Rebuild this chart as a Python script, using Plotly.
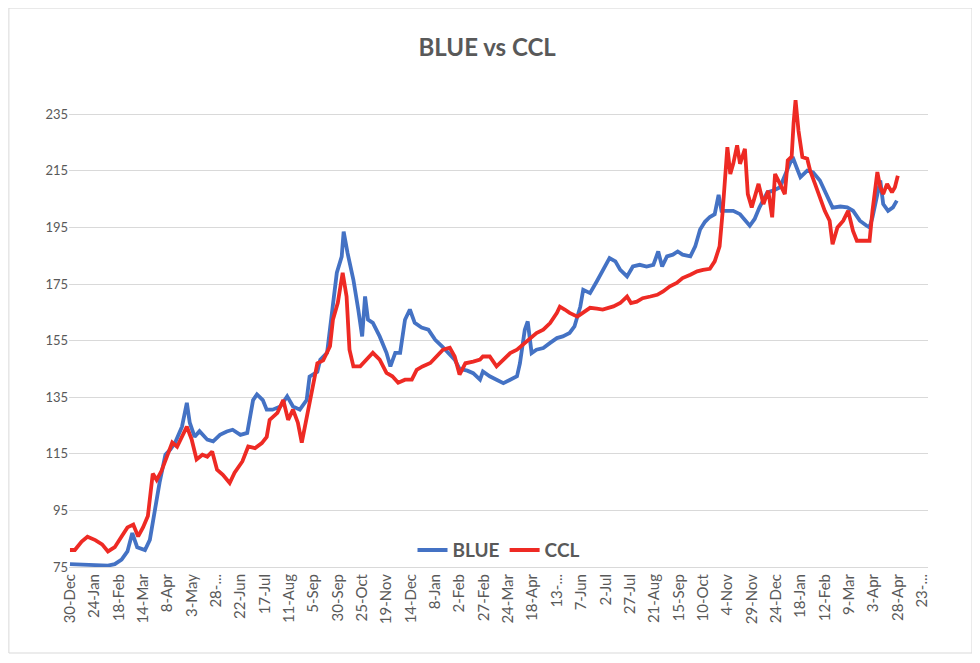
"""
BLUE vs CCL - line chart (Excel look) rebuilt with plotly
"""

import pandas as pd
import plotly.graph_objects as go

BLUE_COLOR = "#4472C4"
CCL_COLOR = "#EE2A24"
TEXT = "#595959"
GRID = "#D9D9D9"
FONT = "Lato, 'Open Sans', sans-serif"

# ---- data ----
blue_dates = [
    "2019-12-30", "2020-01-11", "2020-01-25", "2020-02-07", "2020-02-14", "2020-02-21",
    "2020-02-27", "2020-03-03", "2020-03-08", "2020-03-16", "2020-03-21", "2020-03-26",
    "2020-03-31", "2020-04-06", "2020-04-11", "2020-04-16", "2020-04-23", "2020-04-28",
    "2020-05-01", "2020-05-06", "2020-05-11", "2020-05-19", "2020-05-25", "2020-06-01",
    "2020-06-08", "2020-06-14", "2020-06-22", "2020-06-29", "2020-07-05", "2020-07-09",
    "2020-07-15", "2020-07-19", "2020-07-25", "2020-08-02", "2020-08-09", "2020-08-15",
    "2020-08-22", "2020-08-29", "2020-09-01", "2020-09-09", "2020-09-12", "2020-09-19",
    "2020-09-24", "2020-09-29", "2020-10-04", "2020-10-06", "2020-10-10", "2020-10-16",
    "2020-10-21", "2020-10-25", "2020-10-28", "2020-10-31", "2020-11-05", "2020-11-12",
    "2020-11-19", "2020-11-23", "2020-11-28", "2020-12-03", "2020-12-08", "2020-12-13",
    "2020-12-18", "2020-12-25", "2021-01-01", "2021-01-08", "2021-01-15", "2021-01-21",
    "2021-01-28", "2021-02-02", "2021-02-10", "2021-02-16", "2021-02-23", "2021-02-26",
    "2021-03-05", "2021-03-12", "2021-03-19", "2021-03-26", "2021-04-02", "2021-04-05",
    "2021-04-10", "2021-04-13", "2021-04-17", "2021-04-22", "2021-04-29", "2021-05-06",
    "2021-05-13", "2021-05-19", "2021-05-26", "2021-05-31", "2021-06-06", "2021-06-09",
    "2021-06-16", "2021-06-23", "2021-06-29", "2021-07-06", "2021-07-12", "2021-07-17",
    "2021-07-24", "2021-07-30", "2021-08-06", "2021-08-13", "2021-08-20", "2021-08-25",
    "2021-08-29", "2021-09-03", "2021-09-09", "2021-09-14", "2021-09-19", "2021-09-27",
    "2021-10-02", "2021-10-07", "2021-10-12", "2021-10-17", "2021-10-22", "2021-10-26",
    "2021-10-29", "2021-11-04", "2021-11-10", "2021-11-17", "2021-11-22", "2021-11-27",
    "2021-12-02", "2021-12-07", "2021-12-15", "2021-12-21", "2021-12-28", "2022-01-04",
    "2022-01-10", "2022-01-14", "2022-01-18", "2022-01-25", "2022-01-31", "2022-02-07",
    "2022-02-14", "2022-02-20", "2022-02-28", "2022-03-07", "2022-03-13", "2022-03-20",
    "2022-03-27", "2022-03-30", "2022-04-02", "2022-04-07", "2022-04-10", "2022-04-13",
    "2022-04-18", "2022-04-23", "2022-04-27",
]
blue_values = [
    76, 75.8, 75.5, 75.5, 76, 77.6,
    80.5, 87, 82, 81, 84.6, 95,
    104.8, 114.7, 116.5, 119, 124.6, 133,
    126, 121, 123, 120, 119.4, 121.7,
    122.9, 123.5, 121.7, 122.4, 134, 136,
    134, 130.6, 130.6, 131.7, 135.3, 131.7,
    130.6, 134, 142.3, 144, 148.3, 150.7,
    164.8, 179, 184.7, 193.5, 186, 176.5,
    166, 156.5, 170.6, 162.4, 161.3, 156.5,
    150.7, 145.9, 150.7, 150.7, 162.4, 166,
    161.3, 159.6, 158.9, 155.3, 153, 150.7,
    148.3, 145, 144.4, 143.5, 141.2, 144.1,
    142.4, 141.2, 140, 141.2, 142.4, 147,
    158.9, 161.8, 150.6, 151.8, 152.4, 154.2,
    155.9, 156.5, 157.7, 160, 167, 173,
    171.8, 176, 180, 184.2, 183, 180,
    177.7, 181.2, 181.8, 181.2, 181.8, 186.5,
    181.2, 184.8, 185.4, 186.5, 185.4, 184.8,
    188.3, 194.3, 197, 198.7, 199.7, 206.5,
    200.9, 200.9, 200.9, 199.7, 197.4, 195.6,
    198, 202.1, 207.4, 208, 209.2, 215.1,
    219.9, 216.3, 212.8, 215.1, 214.5, 211.6,
    206.8, 202, 202.4, 202.1, 200.9, 197.4,
    195.6, 195, 198.6, 206.8, 211.6, 203.3,
    200.9, 202.1, 204.5,
]

ccl_dates = [
    "2019-12-30", "2020-01-04", "2020-01-11", "2020-01-17", "2020-01-25", "2020-02-01",
    "2020-02-07", "2020-02-14", "2020-02-21", "2020-02-27", "2020-03-04", "2020-03-09",
    "2020-03-14", "2020-03-19", "2020-03-24", "2020-03-28", "2020-04-02", "2020-04-08",
    "2020-04-13", "2020-04-18", "2020-04-23", "2020-04-28", "2020-05-03", "2020-05-08",
    "2020-05-14", "2020-05-19", "2020-05-24", "2020-05-29", "2020-06-04", "2020-06-11",
    "2020-06-16", "2020-06-24", "2020-06-30", "2020-07-07", "2020-07-14", "2020-07-19",
    "2020-07-22", "2020-07-30", "2020-08-05", "2020-08-10", "2020-08-15", "2020-08-20",
    "2020-08-24", "2020-08-29", "2020-09-04", "2020-09-09", "2020-09-15", "2020-09-22",
    "2020-09-25", "2020-09-30", "2020-10-05", "2020-10-09", "2020-10-12", "2020-10-16",
    "2020-10-23", "2020-10-30", "2020-11-05", "2020-11-12", "2020-11-19", "2020-11-25",
    "2020-12-01", "2020-12-08", "2020-12-15", "2020-12-20", "2020-12-26", "2021-01-03",
    "2021-01-10", "2021-01-16", "2021-01-23", "2021-01-28", "2021-02-02", "2021-02-08",
    "2021-02-16", "2021-02-23", "2021-02-26", "2021-03-05", "2021-03-12", "2021-03-19",
    "2021-03-26", "2021-04-02", "2021-04-08", "2021-04-15", "2021-04-22", "2021-04-29",
    "2021-05-06", "2021-05-13", "2021-05-16", "2021-05-21", "2021-05-26", "2021-06-03",
    "2021-06-09", "2021-06-16", "2021-06-23", "2021-06-29", "2021-07-10", "2021-07-17",
    "2021-07-24", "2021-07-28", "2021-08-03", "2021-08-09", "2021-08-17", "2021-08-24",
    "2021-08-30", "2021-09-06", "2021-09-13", "2021-09-19", "2021-09-27", "2021-10-04",
    "2021-10-10", "2021-10-17", "2021-10-22", "2021-10-27", "2021-10-30", "2021-11-02",
    "2021-11-04", "2021-11-07", "2021-11-10", "2021-11-14", "2021-11-17", "2021-11-22",
    "2021-11-25", "2021-11-29", "2021-12-02", "2021-12-06", "2021-12-11", "2021-12-16",
    "2021-12-20", "2021-12-23", "2021-12-28", "2022-01-02", "2022-01-05", "2022-01-09",
    "2022-01-11", "2022-01-13", "2022-01-16", "2022-01-20", "2022-01-25", "2022-01-28",
    "2022-02-02", "2022-02-07", "2022-02-12", "2022-02-17", "2022-02-20", "2022-02-25",
    "2022-03-03", "2022-03-08", "2022-03-13", "2022-03-17", "2022-03-23", "2022-03-30",
    "2022-04-02", "2022-04-07", "2022-04-10", "2022-04-13", "2022-04-17", "2022-04-22",
    "2022-04-25", "2022-04-28",
]
ccl_values = [
    81, 81, 84, 85.7, 84.5, 83,
    80.5, 82, 85.8, 89, 90, 85.8,
    89, 93, 108, 105.8, 109, 115,
    119, 117.5, 121, 124.6, 120, 113,
    114.7, 114, 115.8, 109.4, 107.6, 104.7,
    108.3, 112.3, 117.6, 117, 118.8, 121,
    127, 129.5, 134, 127, 130.6, 126,
    119, 128, 137.7, 147, 148, 153,
    162.4, 168.4, 179, 170.6, 151.8, 145.9,
    145.9, 148.3, 150.7, 148.3, 143.6, 142.4,
    140.1, 141.2, 141.2, 144.7, 145.9, 147.1,
    149.4, 151.8, 152.5, 149.4, 143, 147,
    147.6, 148.3, 149.4, 149.4, 145.9, 148.3,
    150.6, 151.8, 153.5, 155.3, 157.7, 158.9,
    161.2, 164.8, 167, 166, 164.8, 163.5,
    165, 166.6, 166.3, 166, 167.1, 168.3,
    170.6, 168.3, 168.8, 170, 170.6, 171.2,
    172.4, 174.2, 175.4, 177.1, 178.3, 179.5,
    180, 180.4, 183, 188.3, 200, 212.8,
    223.4, 213.9, 217.5, 224, 217.5, 222.8,
    206.8, 202.1, 205.7, 210.4, 203.3, 208,
    198.6, 213.9, 210.4, 206.8, 218.7, 220,
    232, 240, 229.3, 219.9, 219.3, 215.1,
    210.4, 205.7, 200.9, 197.4, 189.1, 195,
    197.4, 200.9, 193.8, 190.3, 190.3, 190.3,
    200.9, 214.6, 209.2, 206.8, 210.4, 207.4,
    209.2, 213.3,
]

tick_labels = [
    "30-Dec", "24-Jan", "18-Feb", "14-Mar", "8-Apr", "3-May", "28-...", "22-Jun",
    "17-Jul", "11-Aug", "5-Sep", "30-Sep", "25-Oct", "19-Nov", "14-Dec", "8-Jan",
    "2-Feb", "27-Feb", "24-Mar", "18-Apr", "13-...", "7-Jun", "2-Jul", "27-Jul",
    "21-Aug", "15-Sep", "10-Oct", "4-Nov", "29-Nov", "24-Dec", "18-Jan", "12-Feb",
    "9-Mar", "3-Apr", "28-Apr", "23-...",
]
y_ticks = [75, 95, 115, 135, 155, 175, 195, 215, 235]

# Excel date axis: major unit 25 days starting on the first date
tick_vals = pd.date_range("2019-12-30", periods=len(tick_labels), freq="25D")

fig = go.Figure()
fig.add_trace(go.Scatter(
    x=pd.to_datetime(blue_dates), y=blue_values, name="<b>BLUE</b>",
    mode="lines", line=dict(color=BLUE_COLOR, width=3.8),
))
fig.add_trace(go.Scatter(
    x=pd.to_datetime(ccl_dates), y=ccl_values, name="<b>CCL</b>",
    mode="lines", line=dict(color=CCL_COLOR, width=3.8),
))

# page body keeps its 8px default margin, so the figure is 8px smaller
fig.update_layout(
    width=972, height=655,
    paper_bgcolor="white", plot_bgcolor="white",
    margin=dict(l=61, r=52, t=78, b=96),
    font=dict(family=FONT, color=TEXT, size=13),
    title=dict(
        text="<b>BLUE vs CCL</b>", x=0.493, xanchor="center",
        y=0.939, yanchor="middle",
        font=dict(family=FONT, size=24, color=TEXT),
    ),
    legend=dict(
        orientation="h", x=0.5, xanchor="center", y=0.035, yanchor="middle",
        font=dict(family=FONT, size=19, color=TEXT),
        bgcolor="rgba(0,0,0,0)",
    ),
    showlegend=True,
)
fig.update_xaxes(
    type="date", range=["2019-12-29", "2022-05-29"],
    tickmode="array", tickvals=tick_vals, ticktext=tick_labels,
    tickangle=-90, showgrid=False, showline=True, linecolor=GRID, linewidth=1,
    ticks="", tickfont=dict(size=15, color=TEXT),
)
fig.update_yaxes(
    range=[75, 245], tickmode="array", tickvals=y_ticks,
    showgrid=True, gridcolor=GRID, gridwidth=1, zeroline=False,
    showline=False, ticks="", tickfont=dict(size=13, color=TEXT),
)

# chart-area border like the Excel chart object
fig.add_shape(
    type="rect", xref="paper", yref="paper",
    x0=-0.07, x1=1.0512, y0=-0.1788, y1=1.162,
    line=dict(color=GRID, width=1), fillcolor="rgba(0,0,0,0)", layer="below",
)

fig.write_html("out.html")
